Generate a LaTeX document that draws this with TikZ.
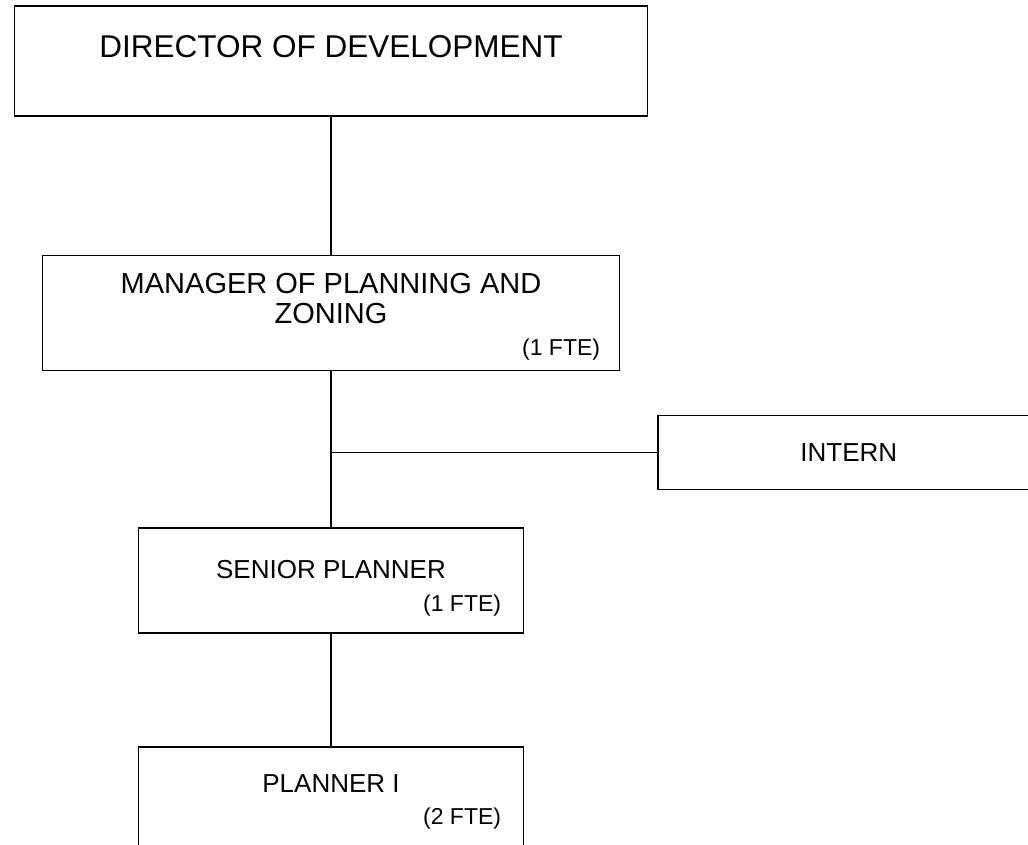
\documentclass[tikz,border=0pt]{standalone}
\usepackage{fontspec}
\setmainfont{Liberation Sans}
\usetikzlibrary{positioning}
\tikzset{
    post/.style={draw, rectangle, line width=1.6pt, inner sep=0pt},
    title/.style={anchor=north, inner sep=0pt, align=center},
    fte/.style={anchor=base east, inner sep=0pt, font=\fontsize{23}{27}\selectfont},
    link/.style={line width=1.6pt}
}

\begin{document}
\begin{tikzpicture}[x=1pt, y=1pt, node distance=138pt]
    \useasboundingbox (0,0) rectangle (1028,-844);
    \clip (0,0) rectangle (1028,-844);
    % boxes
    \node[post, minimum width=633pt, minimum height=110pt] (dir) at (331,-61) {};
    \node[post, minimum width=577pt, minimum height=115pt] (mgr) [below=138pt of dir] {};
    \node[post, minimum width=385pt, minimum height=105pt] (sen) [below=156pt of mgr] {};
    \node[post, minimum width=385pt, minimum height=120pt] (pl1) [below=112pt of sen] {};
    \coordinate[below=81pt of mgr] (fork);
    \node[post, minimum width=382pt, minimum height=74pt, font=\fontsize{26}{30}\selectfont] (intern) [right=326pt of fork] {INTERN};
    % titles
    \node[title, font=\fontsize{31.5}{36}\selectfont, below=30pt of dir.north] (dirname) {DIRECTOR OF DEVELOPMENT};
    \node[title, font=\fontsize{29}{30}\selectfont, below=18pt of mgr.north] (mgrname) {MANAGER OF PLANNING AND\\ZONING};
    \node[fte] (mgrfte) at ([xshift=-20pt, yshift=16pt]mgr.south east) {(1 FTE)};
    \node[title, font=\fontsize{26}{30}\selectfont, below=33pt of sen.north] (senname) {SENIOR PLANNER};
    \node[fte] (senfte) at ([xshift=-23pt, yshift=23pt]sen.south east) {(1 FTE)};
    \node[title, font=\fontsize{26}{30}\selectfont, below=28pt of pl1.north] (pl1name) {PLANNER I};
    \node[fte] (pl1fte) at ([xshift=-23pt, yshift=-78pt]pl1.north east) {(2 FTE)};
    % lines
    \draw[link] (dir) -- (mgr);
    \draw[link] (mgr) -- (sen);
    \draw[link] (sen) -- (pl1);
    \draw[link] (fork) -- (intern);
\end{tikzpicture}
\end{document}
